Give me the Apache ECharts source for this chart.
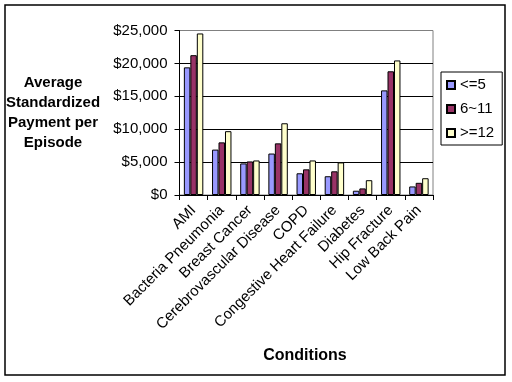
<!DOCTYPE html>
<html><head><meta charset="utf-8">
<script src="https://cdn.jsdelivr.net/npm/echarts@6/dist/echarts.min.js"></script>
<style>html,body{margin:0;padding:0;background:#fff}#c{width:512px;height:382px}</style>
</head><body><div id="c"></div>
<script>
const categories = ["AMI","Bacteria Pneumonia","Breast Cancer","Cerebrovascular Disease","COPD","Congestive Heart Failure","Diabetes","Hip Fracture","Low Back Pain"];
const seriesNames = ["<=5","6~11",">=12"];
const low = [19400, 6900, 4800, 6300, 3300, 2850, 650, 15900, 1300];
const mid = [21250, 8000, 5100, 7850, 3900, 3600, 1000, 18800, 1850];
const high = [24550, 9700, 5250, 10900, 5250, 4950, 2250, 20450, 2550];
const yTicks = [0, 5000, 10000, 15000, 20000, 25000];
const colors = ["#9999FF", "#993366", "#FFFFCC"];

const font = "Liberation Sans, Arial, sans-serif";
const chart = echarts.init(document.getElementById('c'), null, {renderer: 'canvas'});
const data = [low, mid, high];
chart.setOption({
  animation: false,
  backgroundColor: '#fff',
  grid: {left: 179.5, right: 79, top: 30.5, bottom: 187, show: true, borderColor: '#808080', borderWidth: 1, containLabel: false},
  legend: {
    orient: 'vertical', left: 441, top: 72, width: 61,
    itemWidth: 8, itemHeight: 8, itemGap: 8,
    padding: [5, 8, 4, 5],
    borderColor: '#000', borderWidth: 1,
    icon: 'rect',
    textStyle: {fontFamily: font, fontSize: 15, color: '#000', lineHeight: 16},
    data: seriesNames
  },
  xAxis: {
    type: 'category', data: categories,
    axisLine: {lineStyle: {color: '#000', width: 1}},
    axisTick: {show: true, length: 5, lineStyle: {color: '#000'}},
    axisLabel: {rotate: 45, interval: 0, fontFamily: font, fontSize: 15, color: '#000', margin: 13}
  },
  yAxis: {
    type: 'value', min: 0, max: 25000, interval: 5000,
    axisLine: {show: true, lineStyle: {color: '#000', width: 1}},
    axisTick: {show: true, length: 5, lineStyle: {color: '#000'}},
    axisLabel: {fontFamily: font, fontSize: 15, color: '#000', margin: 12,
      formatter: v => yTicks.includes(v) ? '$' + v.toLocaleString('en-US') : ''},
    splitLine: {show: true, lineStyle: {color: ['#000','#000','#000','#000','#000','#808080'], width: 1}}
  },
  series: seriesNames.map((n, i) => ({
    name: n, type: 'bar', data: data[i],
    barGap: '0%', barCategoryGap: '31%',
    itemStyle: {color: colors[i], borderColor: '#000', borderWidth: 1}
  })),
  graphic: [
    {type: 'rect', shape: {x: 5, y: 5, width: 500, height: 370}, style: {fill: 'none', stroke: '#000', lineWidth: 1.5}, silent: true},
    {type: 'text', x: 53, y: 113, style: {text: 'Average\nStandardized\nPayment per\nEpisode', font: 'bold 15px ' + font, fill: '#000', align: 'center', verticalAlign: 'middle', lineHeight: 20}},
    {type: 'text', x: 305, y: 356, style: {text: 'Conditions', font: 'bold 16px ' + font, fill: '#000', align: 'center', verticalAlign: 'middle'}}
  ]
});
</script></body></html>
